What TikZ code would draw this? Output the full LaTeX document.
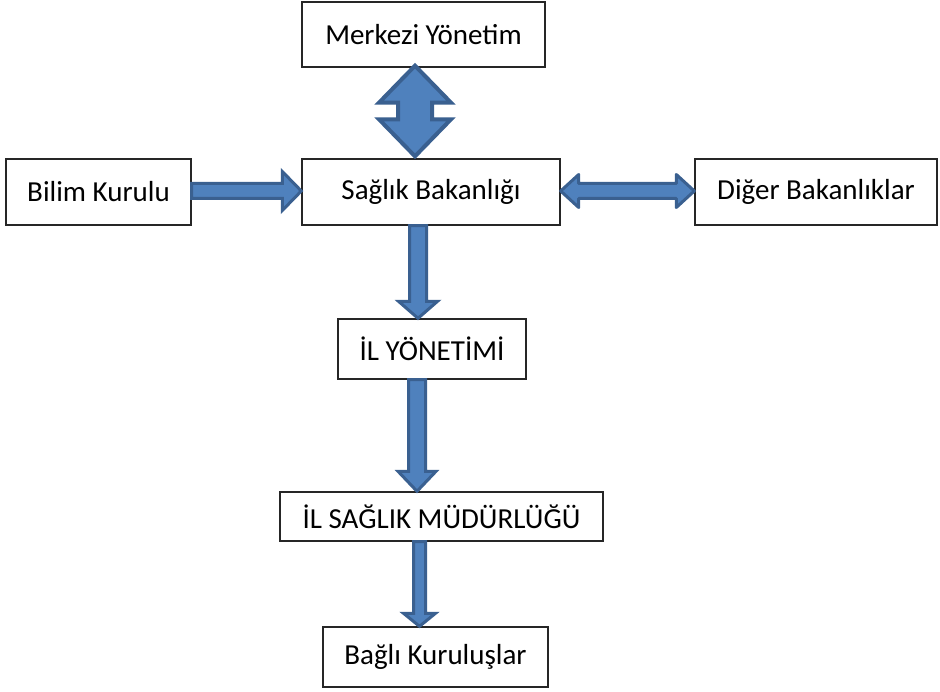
\documentclass[tikz,border=0pt]{standalone}
\usepackage{fontspec}
\setmainfont{Carlito}
\usetikzlibrary{calc}
\definecolor{arrowfill}{HTML}{4F81BD}
\definecolor{arrowedge}{HTML}{3A6090}

% Block arrows between two anchors. Arguments: start anchor, end anchor,
% axis position, half shaft width, half head width, head length (all in pt).
\newcommand\downblock[7][]{%
  \draw[blockarrow,#1] let \p1=(#2), \p2=(#3) in
    (#4pt-#5pt,\y1) -- (#4pt+#5pt,\y1) -- (#4pt+#5pt,\y2+#7pt) -- (#4pt+#6pt,\y2+#7pt)
    -- (#4pt,\y2) -- (#4pt-#6pt,\y2+#7pt) -- (#4pt-#5pt,\y2+#7pt) -- cycle;}
\newcommand\vdoubleblock[7][]{%
  \draw[blockarrow,#1] let \p1=(#2), \p2=(#3) in
    (#4pt,\y1) -- (#4pt+#6pt,\y1-#7pt) -- (#4pt+#5pt,\y1-#7pt) -- (#4pt+#5pt,\y2+#7pt)
    -- (#4pt+#6pt,\y2+#7pt) -- (#4pt,\y2) -- (#4pt-#6pt,\y2+#7pt) -- (#4pt-#5pt,\y2+#7pt)
    -- (#4pt-#5pt,\y1-#7pt) -- (#4pt-#6pt,\y1-#7pt) -- cycle;}
\newcommand\rightblock[7][]{%
  \draw[blockarrow,#1] let \p1=(#2), \p2=(#3) in
    (\x1,#4pt-#5pt) -- (\x2-#7pt,#4pt-#5pt) -- (\x2-#7pt,#4pt-#6pt) -- (\x2,#4pt)
    -- (\x2-#7pt,#4pt+#6pt) -- (\x2-#7pt,#4pt+#5pt) -- (\x1,#4pt+#5pt) -- cycle;}
\newcommand\hdoubleblock[7][]{%
  \draw[blockarrow,#1] let \p1=(#2), \p2=(#3) in
    (\x1,#4pt) -- (\x1+#7pt,#4pt+#6pt) -- (\x1+#7pt,#4pt+#5pt) -- (\x2-#7pt,#4pt+#5pt)
    -- (\x2-#7pt,#4pt+#6pt) -- (\x2,#4pt) -- (\x2-#7pt,#4pt-#6pt) -- (\x2-#7pt,#4pt-#5pt)
    -- (\x1+#7pt,#4pt-#5pt) -- (\x1+#7pt,#4pt-#6pt) -- cycle;}

\begin{document}
\begin{tikzpicture}[x=1pt,y=1pt,
  box/.style={draw=black!85, line width=1.4pt, fill=white, inner sep=0pt,
    font=\fontsize{29}{33}\selectfont},
  blockarrow/.style={fill=arrowfill, draw=arrowedge, line width=4pt, line join=miter},
  thinarrow/.style={line width=3pt},
]
\useasboundingbox[fill=white] (0,0) rectangle (940,691);

% boxes
\node[box, minimum width=243pt, minimum height=65pt] (mz)  at (423.5,656.5) {Merkezi Yönetim};
\node[box, minimum width=258pt, minimum height=66pt] (sb)  at (431,499)     {Sağlık Bakanlığı};
\node[box, minimum width=185pt, minimum height=66pt] (bk)  at (98.5,499)    {Bilim Kurulu};
\node[box, minimum width=242pt, minimum height=66pt] (db)  at (816,499)     {Diğer Bakanlıklar};
\node[box, minimum width=188pt, minimum height=60pt] (iy)  at (432,342)     {İL YÖNETİMİ};
\node[box, minimum width=323pt, minimum height=49pt] (ism) at (441.5,174.5) {İL SAĞLIK MÜDÜRLÜĞÜ};
\node[box, minimum width=225pt, minimum height=60pt] (bg)  at (435.5,34)    {Bağlı Kuruluşlar};

% connectors
\vdoubleblock{$(mz.south)+(0,2)$}{$(sb.north)+(0,2)$}{415}{17}{36}{37}
\rightblock[thinarrow]{bk.east}{sb.west}{500}{7.5}{19.5}{19}
\hdoubleblock[thinarrow, line join=round]{sb.east}{db.west}{500}{7.5}{16.5}{18}
\downblock[thinarrow]{sb.south}{iy.north}{418}{8.5}{19.5}{17}
\downblock[thinarrow]{iy.south}{ism.north}{417}{8.5}{19}{20}
\downblock[thinarrow]{ism.south}{bg.north}{419.5}{6}{16}{13}
\end{tikzpicture}
\end{document}
